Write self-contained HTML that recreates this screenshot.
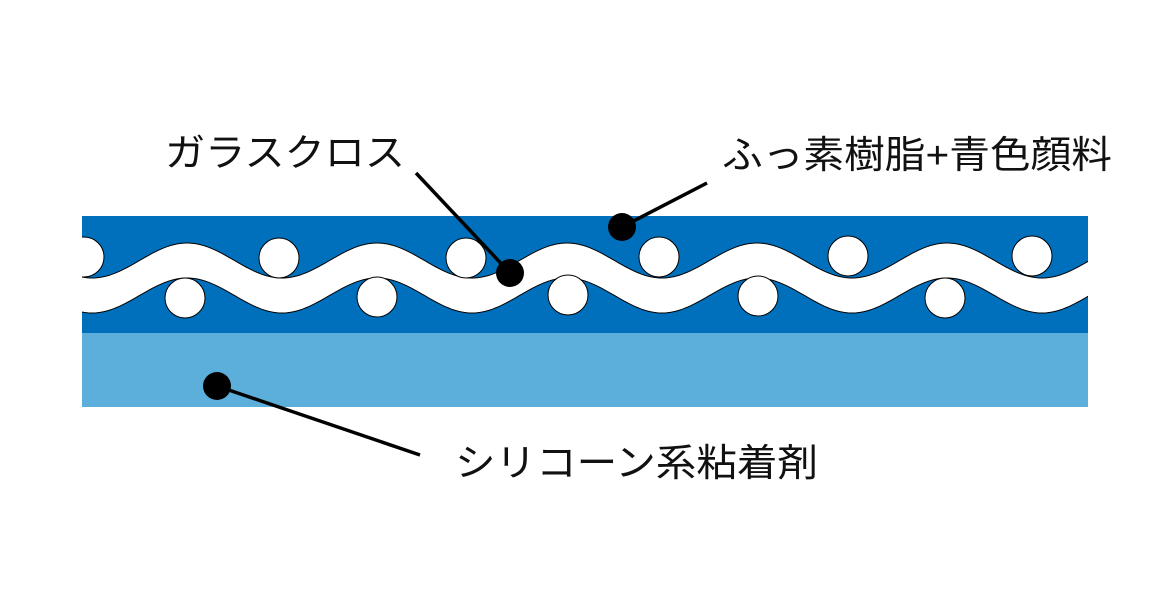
<!DOCTYPE html>
<html><head><meta charset="utf-8"><style>
html,body{margin:0;padding:0;background:#fff;}
svg{display:block;}
text{font-family:"Liberation Sans","Noto Sans CJK JP",sans-serif;font-size:38px;fill:#111;}
</style></head><body>
<svg width="1176" height="609" viewBox="0 0 1176 609" xmlns="http://www.w3.org/2000/svg">
<defs><clipPath id="c"><rect x="82" y="216" width="1006" height="191"/></clipPath></defs>
<rect x="82" y="333" width="1006" height="74" fill="#5cafdb"/>
<rect x="82" y="216" width="1006" height="117" fill="#0070bc"/>
<g clip-path="url(#c)">
<path id="w" d="M0,0" fill="#fff" stroke="#000" stroke-width="1"/>
<g fill="#fff" stroke="#000" stroke-width="1">
<circle cx="84" cy="257" r="20"/>
<circle cx="279" cy="258" r="20"/>
<circle cx="466" cy="258" r="20"/>
<circle cx="659" cy="257" r="20"/>
<circle cx="848" cy="256" r="20"/>
<circle cx="1032" cy="256" r="20"/>
<circle cx="185" cy="298" r="20"/>
<circle cx="377" cy="297" r="20"/>
<circle cx="568" cy="295" r="20"/>
<circle cx="758" cy="296" r="20"/>
<circle cx="945" cy="298" r="20"/>
</g>
</g>
<g stroke="#000" stroke-width="3.5" fill="none">
<line x1="622" y1="227" x2="707" y2="183"/>
<line x1="510" y1="273" x2="416" y2="173"/>
<line x1="217" y1="386" x2="420" y2="455"/>
</g>
<g fill="#000">
<circle cx="622" cy="227" r="14"/>
<circle cx="510" cy="273" r="14"/>
<circle cx="217" cy="386" r="14"/>
</g>
<text x="165" y="166" textLength="240" lengthAdjust="spacingAndGlyphs">ガラスクロス</text>
<text x="722" y="168" textLength="390" lengthAdjust="spacingAndGlyphs">ふっ素樹脂+青色顔料</text>
<text x="455" y="476" textLength="363" lengthAdjust="spacingAndGlyphs">シリコーン系粘着剤</text>
</svg>
<script>
(function(){
var P=190,x0=187,A=17.5,cy=260.5,th=35,up=[],dn=[];
for(var x=70;x<=1100;x+=2){var y=cy-A*Math.cos(2*Math.PI*(x-x0)/P);up.push(x+","+y.toFixed(2));dn.unshift(x+","+(y+th).toFixed(2));}
document.getElementById("w").setAttribute("d","M"+up.join(" L")+" L"+dn.join(" L")+"Z");
})();
</script>
</body></html>
